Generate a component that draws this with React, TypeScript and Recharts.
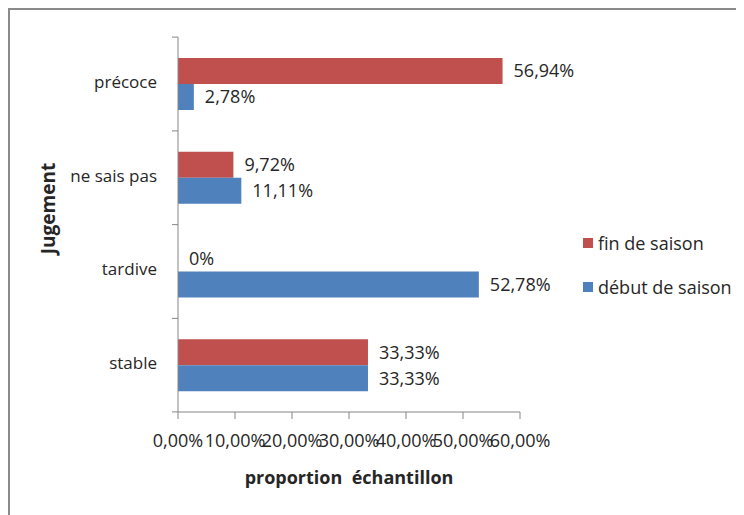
import React from 'react';
import { BarChart, Bar, XAxis, YAxis, LabelList, Label } from 'recharts';

const categories = ['précoce', 'ne sais pas', 'tardive', 'stable'];
const finDeSaison = [56.94, 9.72, 0, 33.33];
const debutDeSaison = [2.78, 11.11, 52.78, 33.33];
const xTicks = [0, 10, 20, 30, 40, 50, 60];
const seriesNames = ['fin de saison', 'début de saison'];

const RED = '#C0504D';
const BLUE = '#4F81BD';
const AXIS = '#868686';
const TEXT = '#262626';
const FONT = '"Open Sans", sans-serif';

const data = categories.map((name, i) => ({
  name,
  fin: finDeSaison[i],
  debut: debutDeSaison[i],
}));

const pct2 = (v: number) => v.toFixed(2).replace('.', ',') + '%';
const pctLabel = (v: any) => (Number(v) === 0 ? '0%' : pct2(Number(v)));

const PLOT_H = 374;
const BAND = PLOT_H / categories.length;

function CategoryTick(props: any) {
  const { x, y, payload, index } = props;
  return (
    <g>
      <line x1={x - 6} x2={x} y1={y - BAND / 2} y2={y - BAND / 2} stroke={AXIS} />
      {index === categories.length - 1 && (
        <line x1={x - 6} x2={x} y1={y + BAND / 2} y2={y + BAND / 2} stroke={AXIS} />
      )}
      <text x={x - 21} y={y} dy={4} textAnchor="end" fill={TEXT} fontSize={17} fontFamily={FONT}>
        {payload.value}
      </text>
    </g>
  );
}

function LegendBox() {
  const colors = [RED, BLUE];
  return (
    <div style={{ position: 'absolute', left: 573, top: 211, fontFamily: FONT, fontSize: 18, color: TEXT }}>
      {seriesNames.map((label, i) => (
        <div key={label} style={{ display: 'flex', alignItems: 'center', height: 44, whiteSpace: 'nowrap' }}>
          <span style={{ width: 10, height: 10, background: colors[i], display: 'inline-block', marginRight: 5 }} />
          {label}
        </div>
      ))}
    </div>
  );
}

export default function App() {
  return (
    <div style={{ position: 'relative', width: 740, height: 510, border: '2px solid #8a8a8a', boxSizing: 'border-box', background: '#fff' }}>
      <BarChart
        width={736}
        height={506}
        data={data}
        layout="vertical"
        margin={{ top: 27, right: 226, left: 0, bottom: 28 }}
        barGap={0}
      >
        <XAxis
          type="number"
          domain={[0, 60]}
          ticks={xTicks}
          interval={0}
          tickFormatter={pct2}
          stroke={AXIS}
          tickSize={7}
          tickMargin={15}
          height={76}
          tick={{ fill: TEXT, fontSize: 18, fontFamily: FONT }}
        >
          <Label
            content={(p: any) => {
              const vb = p.viewBox;
              return (
                <text x={vb.x + vb.width / 2} y={vb.y + 72} textAnchor="middle" fill={TEXT} fontSize={18} fontWeight="bold" fontFamily={FONT} style={{ whiteSpace: 'pre' }}>
                  {'proportion  échantillon'}
                </text>
              );
            }}
          />
        </XAxis>
        <YAxis
          type="category"
          dataKey="name"
          width={168}
          stroke={AXIS}
          tickLine={false}
          tickSize={0}
          tickMargin={0}
          interval={0}
          tick={<CategoryTick />}
        >
          <Label
            content={(p: any) => {
              const vb = p.viewBox;
              const cx = 38;
              const cy = vb.y + vb.height / 2 - 16;
              return (
                <text x={cx} y={cy} transform={`rotate(-90 ${cx} ${cy})`} textAnchor="middle" dominantBaseline="central" fill={TEXT} fontSize={19} fontWeight="bold" fontFamily={FONT}>
                  Jugement
                </text>
              );
            }}
          />
        </YAxis>
        <Bar dataKey="fin" name={seriesNames[0]} fill={RED} barSize={26} minPointSize={0.01} isAnimationActive={false}>
          <LabelList dataKey="fin" position="right" offset={11} formatter={pctLabel} fill={TEXT} fontSize={18} fontFamily={FONT} />
        </Bar>
        <Bar dataKey="debut" name={seriesNames[1]} fill={BLUE} barSize={26} isAnimationActive={false}>
          <LabelList dataKey="debut" position="right" offset={11} formatter={pctLabel} fill={TEXT} fontSize={18} fontFamily={FONT} />
        </Bar>
      </BarChart>
      <LegendBox />
    </div>
  );
}
